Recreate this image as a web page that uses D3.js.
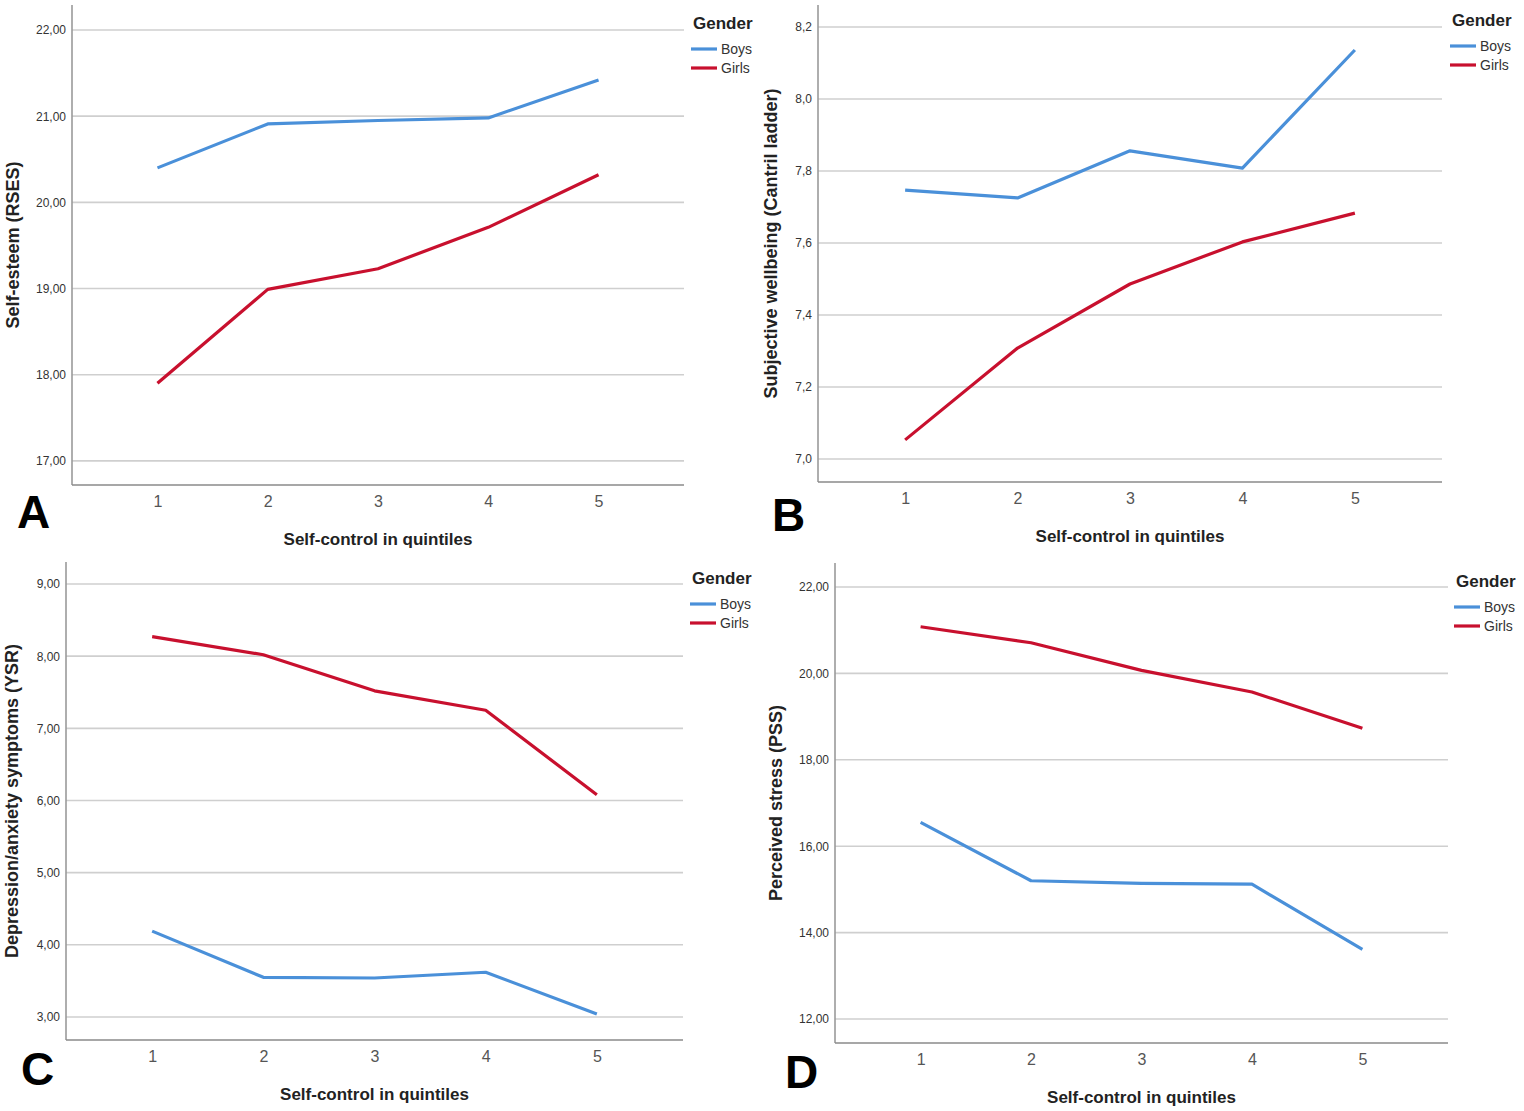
<!DOCTYPE html>
<html>
<head>
<meta charset="utf-8">
<script src="https://cdn.jsdelivr.net/npm/d3@7"></script>
<style>
  body { margin: 0; background: #fff; }
  svg { display: block; font-family: "Liberation Sans", Arial, sans-serif; }
</style>
</head>
<body>
<svg id="root" width="1524" height="1111"></svg>
<script>
// x categories
const quintiles = [1, 2, 3, 4, 5];
const genders = ["Boys", "Girls"];

// A: self-esteem
const seBoys = [20.40, 20.91, 20.95, 20.98, 21.42];
const seGirls = [17.90, 18.99, 19.23, 19.71, 20.32];
const seTicks = [17, 18, 19, 20, 21, 22];

// B: subjective wellbeing
const swbBoys = [7.747, 7.725, 7.856, 7.808, 8.136];
const swbGirls = [7.053, 7.308, 7.486, 7.603, 7.683];
const swbTicks = [7.0, 7.2, 7.4, 7.6, 7.8, 8.0, 8.2];

// C: depression / anxiety
const depBoys = [4.19, 3.55, 3.54, 3.62, 3.04];
const depGirls = [8.27, 8.02, 7.52, 7.25, 6.08];
const depTicks = [3, 4, 5, 6, 7, 8, 9];

// D: perceived stress
const pssBoys = [16.55, 15.20, 15.14, 15.12, 13.61];
const pssGirls = [21.08, 20.71, 20.07, 19.57, 18.73];
const pssTicks = [12, 14, 16, 18, 20, 22];

const colors = { Boys: "#4a90d9", Girls: "#c8102e" };
const xTitle = "Self-control in quintiles";

const panels = [
  { letter: "A", yTitle: "Self-esteem (RSES)", boys: seBoys, girls: seGirls, ticks: seTicks, dec: 2,
    left: 72, right: 684, top: 5, bottom: 485, yDomain: [16.72, 22.29], yTitleX: 13,
    legX: 691, legY: 5, letterX: 17, letterY: 528 },
  { letter: "B", yTitle: "Subjective wellbeing (Cantril ladder)", boys: swbBoys, girls: swbGirls, ticks: swbTicks, dec: 1,
    left: 818, right: 1442, top: 5, bottom: 482, yDomain: [6.936, 8.261], yTitleX: 771,
    legX: 1450, legY: 2, letterX: 772, letterY: 531 },
  { letter: "C", yTitle: "Depression/anxiety symptoms (YSR)", boys: depBoys, girls: depGirls, ticks: depTicks, dec: 2,
    left: 66, right: 683, top: 562, bottom: 1040, yDomain: [2.681, 9.305], yTitleX: 12,
    legX: 690, legY: 560, letterX: 21, letterY: 1085 },
  { letter: "D", yTitle: "Perceived stress (PSS)", boys: pssBoys, girls: pssGirls, ticks: pssTicks, dec: 2,
    left: 835, right: 1448, top: 563, bottom: 1043, yDomain: [11.444, 22.556], yTitleX: 776,
    legX: 1454, legY: 563, letterX: 785, letterY: 1088 }
];

const svg = d3.select("#root");

panels.forEach(p => {
  const g = svg.append("g");
  const x = d3.scalePoint().domain(quintiles).range([p.left, p.right]).padding(0.775);
  const y = d3.scaleLinear().domain(p.yDomain).range([p.bottom, p.top]);
  const fmt = v => d3.format("." + p.dec + "f")(v).replace(".", ",");

  // gridlines
  g.append("g")
    .selectAll("line")
    .data(p.ticks)
    .enter()
    .append("line")
    .attr("x1", p.left).attr("x2", p.right)
    .attr("y1", d => y(d)).attr("y2", d => y(d))
    .attr("stroke", "#cfcfcf")
    .attr("stroke-width", 1.6);

  // y axis
  const yAxis = g.append("g")
    .attr("transform", `translate(${p.left},0)`)
    .call(d3.axisLeft(y).tickValues(p.ticks).tickFormat(fmt).tickSize(0).tickPadding(6));
  yAxis.select(".domain").remove();
  yAxis.selectAll("text").attr("font-size", 12).attr("fill", "#333")
    .attr("font-family", "Liberation Sans, Arial, sans-serif");
  g.append("line")
    .attr("x1", p.left).attr("x2", p.left)
    .attr("y1", p.top).attr("y2", p.bottom)
    .attr("stroke", "#9a9a9a").attr("stroke-width", 1.6);

  // x axis
  const xAxis = g.append("g")
    .attr("transform", `translate(0,${p.bottom})`)
    .call(d3.axisBottom(x).tickSize(0).tickPadding(11));
  xAxis.select(".domain").remove();
  xAxis.selectAll("text").attr("font-size", 16).attr("fill", "#555")
    .attr("font-family", "Liberation Sans, Arial, sans-serif");
  g.append("line")
    .attr("x1", p.left).attr("x2", p.right)
    .attr("y1", p.bottom).attr("y2", p.bottom)
    .attr("stroke", "#8a8a8a").attr("stroke-width", 1.6);

  // series lines
  const line = d3.line().x((d, i) => x(quintiles[i])).y(d => y(d));
  [["Boys", p.boys], ["Girls", p.girls]].forEach(([name, vals]) => {
    g.append("path")
      .attr("d", line(vals))
      .attr("fill", "none")
      .attr("stroke", colors[name])
      .attr("stroke-width", 3.2)
      .attr("stroke-linejoin", "round");
  });

  // axis titles
  g.append("text")
    .attr("x", (p.left + p.right) / 2)
    .attr("y", p.bottom + 60)
    .attr("text-anchor", "middle")
    .attr("font-size", 17)
    .attr("font-weight", "bold")
    .attr("fill", "#222")
    .text(xTitle);
  g.append("text")
    .attr("transform", `translate(${p.yTitleX + 6},${(p.top + p.bottom) / 2}) rotate(-90)`)
    .attr("text-anchor", "middle")
    .attr("font-size", 18)
    .attr("font-weight", "bold")
    .attr("fill", "#222")
    .text(p.yTitle);

  // legend
  const leg = g.append("g").attr("transform", `translate(${p.legX},${p.legY})`);
  leg.append("text")
    .attr("x", 2).attr("y", 24)
    .attr("font-size", 17).attr("font-weight", "bold").attr("fill", "#222")
    .text("Gender");
  genders.forEach((name, i) => {
    const yy = 44 + i * 19;
    leg.append("line")
      .attr("x1", 0).attr("x2", 26)
      .attr("y1", yy).attr("y2", yy)
      .attr("stroke", colors[name]).attr("stroke-width", 3.2);
    leg.append("text")
      .attr("x", 30).attr("y", yy + 5)
      .attr("font-size", 14).attr("fill", "#333")
      .text(name);
  });

  // panel letter
  svg.append("text")
    .attr("x", p.letterX).attr("y", p.letterY)
    .attr("font-size", 46).attr("font-weight", "bold").attr("fill", "#000")
    .text(p.letter);
});
</script>
</body>
</html>
